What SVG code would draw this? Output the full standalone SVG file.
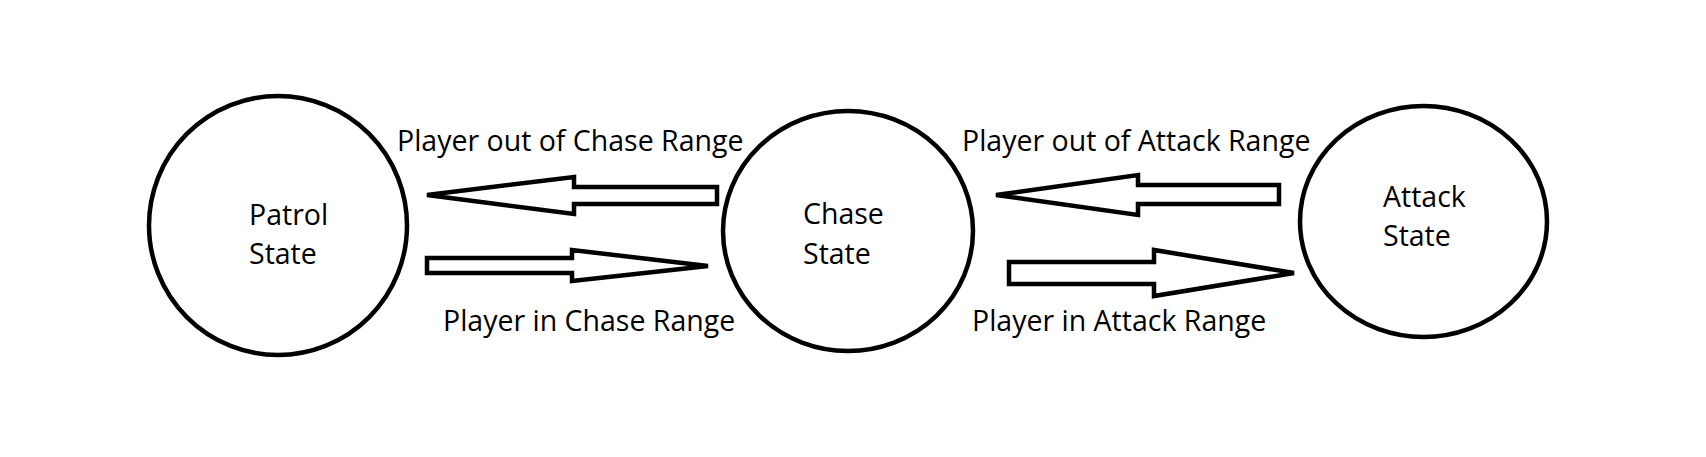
<svg xmlns="http://www.w3.org/2000/svg" width="1706" height="457" viewBox="0 0 1706 457">
<style>
.state{fill:#fff;stroke:#000;stroke-width:4.5}
.arrow{fill:#fff;stroke:#000;stroke-width:4.5;stroke-linejoin:miter}
text{font-family:"Open Sans","Liberation Sans",sans-serif;font-size:28.5px;fill:#000}
</style>
<rect width="1706" height="457" fill="#fff"/>
<g id="patrol">
<ellipse class="state" cx="278" cy="225.5" rx="129" ry="129.5"/>
<text x="249" y="225">Patrol</text>
<text x="249" y="264">State</text>
</g>
<g id="chase">
<ellipse class="state" cx="848" cy="231" rx="125" ry="120"/>
<text x="803" y="224">Chase</text>
<text x="803" y="264">State</text>
</g>
<g id="attack">
<ellipse class="state" cx="1423.5" cy="221.5" rx="123.5" ry="115.5"/>
<text x="1383" y="207">Attack</text>
<text x="1383" y="246">State</text>
</g>
<g id="connectors">
<polygon class="arrow" points="427,195 574,177 574,187 717,187 717,204 574,204 574,214"/>
<polygon class="arrow" points="708,266 572,250 572,258 427,258 427,273 572,273 572,281"/>
<polygon class="arrow" points="996,195 1138,175 1138,185 1279,185 1279,204 1138,204 1138,215"/>
<polygon class="arrow" points="1294,273 1154,250 1154,262 1009,262 1009,284 1154,284 1154,296"/>
<text x="397" y="151">Player out of Chase Range</text>
<text x="443" y="331">Player in Chase Range</text>
<text x="962" y="151">Player out of Attack Range</text>
<text x="972" y="331">Player in Attack Range</text>
</g>
</svg>
